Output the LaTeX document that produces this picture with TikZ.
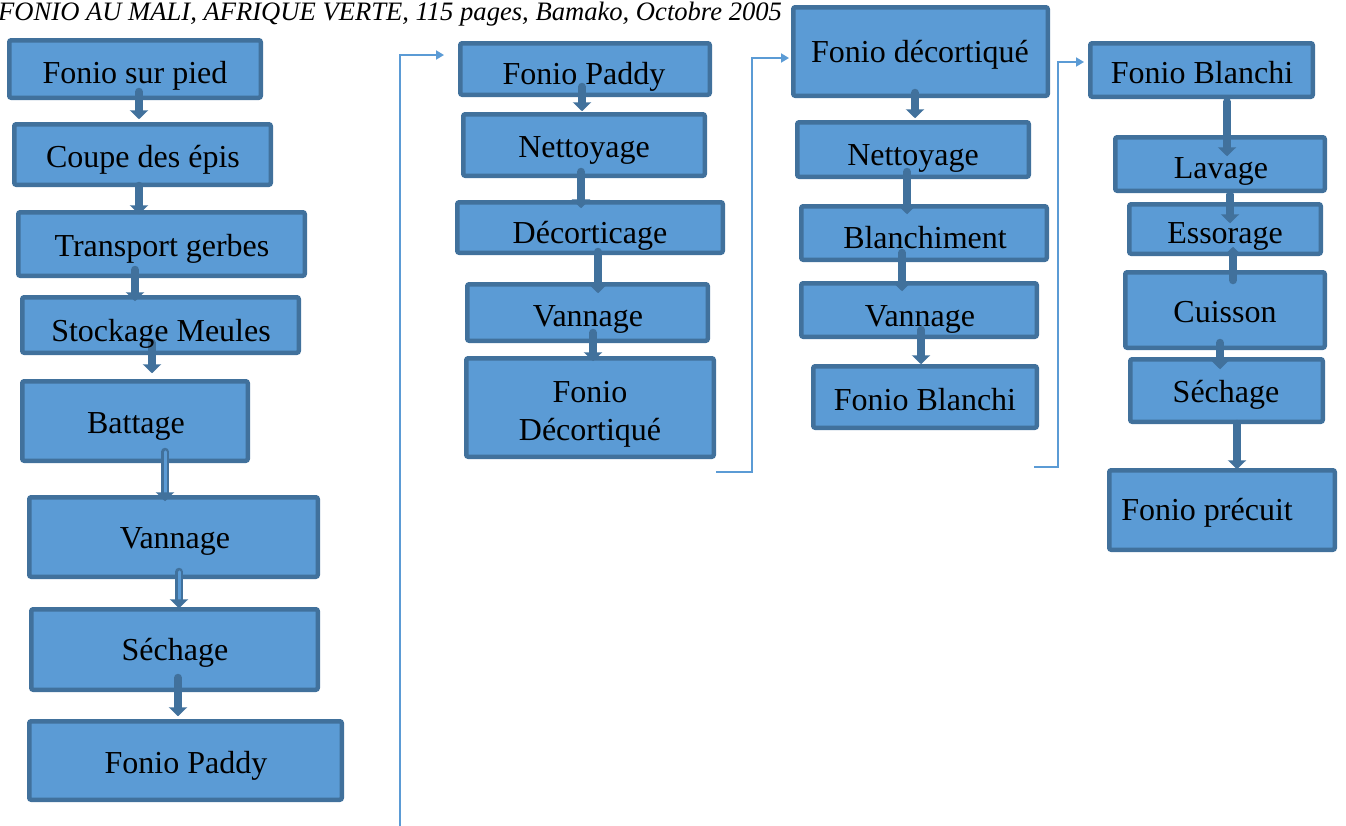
\documentclass[tikz,border=0pt]{standalone}
\usepackage{fontspec}
\setmainfont{Liberation Serif}
\usetikzlibrary{arrows.meta,calc}
\definecolor{boxfill}{HTML}{5B9BD5}
\definecolor{boxline}{HTML}{41719C}
\definecolor{linkcol}{HTML}{5B9BD5}
\tikzset{
  stagebox/.style={draw=boxline, fill=boxfill, line width=4.5pt, rounded corners=2pt, inner sep=0pt, outer sep=0pt},
  lbl/.style={font=\fontsize{32}{38}\selectfont, inner sep=0pt, anchor=base, text=black},
  blk/.style={draw=boxline, line width=8pt, line cap=round, -{Triangle[width=18pt,length=9pt]}},
  hollow/.style={draw=boxline, line width=2.5pt, double=boxfill, double distance=3pt, line cap=round, -{Triangle[width=18pt,length=9pt]}},
  link/.style={draw=linkcol, line width=1.8pt, -{Triangle[width=9pt,length=8pt]}},
}
% \stage{name}{x1}{y1}{x2}{y2}
\newcommand{\stage}[5]{\node[stagebox, minimum width={#4-#2-4.5}, minimum height={#5-#3-4.5}] (#1) at ({(#2+#4)/2},{(#3+#5)/2}) {};}
% \flow[opts]{a}{b}{X}{start offset}{end offset}
\newcommand{\flow}[6][blk]{\draw[#1] ($(#2.south -| #4,0)+(0,#5)$) -- ($(#3.north -| #4,0)+(0,#6)$);}
\begin{document}
\begin{tikzpicture}[x=1pt,y=-1pt]
\useasboundingbox (0,0) rectangle (1346,825);
\node[anchor=base west, inner sep=0pt, font=\fontsize{26.6}{30}\selectfont\itshape] (src) at (-2,20) {FONIO AU MALI, AFRIQUE VERTE, 115 pages, Bamako, Octobre 2005};

% column 1
\stage{c1a}{7}{38}{263}{100}
\stage{c1b}{12}{122}{273}{187}
\stage{c1c}{16}{210}{307}{278}
\stage{c1d}{20}{295}{301}{355}
\stage{c1e}{20}{379}{250}{463}
\stage{c1f}{27}{495}{320}{579}
\stage{c1g}{29}{607}{320}{692}
\stage{c1h}{27}{719}{344}{802}
% column 2
\stage{c2a}{458}{41}{712}{97}
\stage{c2b}{461}{112}{707}{178}
\stage{c2c}{455}{200}{725}{255}
\stage{c2d}{465}{282}{710}{343}
\stage{c2e}{464}{356}{716}{459}
% column 3
\stage{c3a}{791}{5}{1050}{98}
\stage{c3b}{795}{120}{1031}{179}
\stage{c3c}{799}{204}{1049}{262}
\stage{c3d}{799}{281}{1039}{339}
\stage{c3e}{811}{364}{1039}{430}
% column 4
\stage{c4a}{1088}{41}{1315}{99}
\stage{c4b}{1113}{135}{1327}{193}
\stage{c4c}{1127}{202}{1323}{256}
\stage{c4d}{1123}{270}{1327}{350}
\stage{c4e}{1128}{357}{1325}{424}
\stage{c4f}{1107}{468}{1337}{552}

% block arrows
\flow{c1a}{c1b}{139}{-6}{-5}
\flow{c1b}{c1c}{139}{1}{2}
\flow{c1c}{c1d}{135}{-6}{4}
\flow{c1d}{c1e}{152}{-10}{-8}
\flow[hollow]{c1e}{c1f}{165}{-9}{4}
\flow[hollow]{c1f}{c1g}{179}{-5}{-1}
\flow{c1g}{c1h}{178}{-12}{-5}
\flow{c2a}{c2b}{582}{-8}{-3}
\flow{c2b}{c2c}{581}{-4}{6}
\flow{c2c}{c2d}{598}{-1}{9}
\flow{c2d}{c2e}{593}{-8}{3}
\flow{c3a}{c3b}{915}{-3}{-4}
\flow{c3b}{c3c}{907}{-5}{8}
\flow{c3c}{c3d}{902}{-7}{8}
\flow{c3d}{c3e}{921}{-7}{-2}
\flow{c4a}{c4b}{1227}{5}{19}
\flow{c4b}{c4c}{1230}{4}{19}
\draw[blk] ($(c4d.north -| 1233,0)+(0,8)$) -- ($(c4c.south -| 1233,0)+(0,-7)$);
\flow{c4d}{c4e}{1220}{-5}{10}
\flow{c4e}{c4f}{1237}{2}{-1}

% labels
\node[lbl] (c1a-t) at (135,83) {Fonio sur pied};
\node[lbl] (c1b-t) at (143,167) {Coupe des épis};
\node[lbl] (c1c-t) at (162,256) {Transport gerbes};
\node[lbl] (c1d-t) at (161,341) {Stockage Meules};
\node[lbl] (c1e-t) at (136,433) {Battage};
\node[lbl] (c1f-t) at (175,548) {Vannage};
\node[lbl] (c1g-t) at (175,660) {Séchage};
\node[lbl] (c1h-t) at (186,773) {Fonio Paddy};
\node[lbl] (c2a-t) at (584,84) {Fonio Paddy};
\node[lbl] (c2b-t) at (584,157) {Nettoyage};
\node[lbl] (c2c-t) at (590,243) {Décorticage};
\node[lbl] (c2d-t) at (588,326) {Vannage};
\node[lbl, align=center] (c2e-t) at (590,440) {Fonio\\Décortiqué};
\node[lbl] (c3a-t) at (920,62) {Fonio décortiqué};
\node[lbl] (c3b-t) at (913,165) {Nettoyage};
\node[lbl] (c3c-t) at (925,248) {Blanchiment};
\node[lbl] (c3d-t) at (920,326) {Vannage};
\node[lbl] (c3e-t) at (925,410) {Fonio Blanchi};
\node[lbl] (c4a-t) at (1202,83) {Fonio Blanchi};
\node[lbl] (c4b-t) at (1221,178) {Lavage};
\node[lbl] (c4c-t) at (1225,243) {Essorage};
\node[lbl] (c4d-t) at (1225,322) {Cuisson};
\node[lbl] (c4e-t) at (1226,402) {Séchage};
\node[lbl] (c4f-t) at (1207,520) {Fonio précuit};

% thin connectors
\coordinate (in1) at (400,827);
\coordinate (in1e) at (444,55);
\coordinate (out2) at (716,472);
\coordinate (in3) at (789,58);
\coordinate (out3) at (1034,467);
\coordinate (in4) at (1084,62);
\draw[link] (in1) |- (in1e);
\draw[link] (out2) -| ++(36,0) |- (in3);
\draw[link] (out3) -| ++(24,0) |- (in4);
\end{tikzpicture}
\end{document}
